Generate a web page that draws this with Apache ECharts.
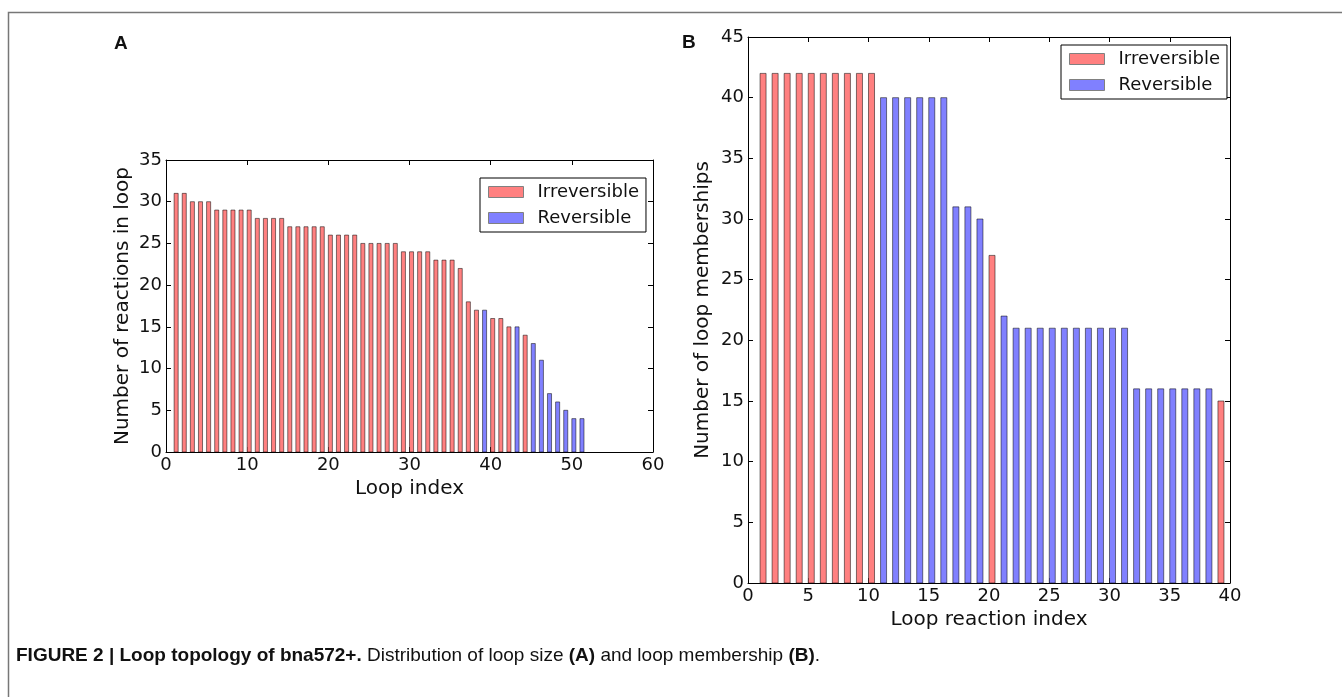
<!DOCTYPE html>
<html>
<head>
<meta charset="utf-8">
<script src="https://cdn.jsdelivr.net/npm/echarts@6/dist/echarts.min.js"></script>
<style>
html,body{margin:0;padding:0;background:#fff;}
#chart{width:1342px;height:697px;}
</style>
</head>
<body>
<div id="chart"></div>
<script>
// ---------- Data ----------
// Panel A: loop size per loop index (1..51)
const loopIndexA = [1,2,3,4,5,6,7,8,9,10,11,12,13,14,15,16,17,18,19,20,21,22,23,24,25,26,27,28,29,30,31,32,33,34,35,36,37,38,39,40,41,42,43,44,45,46,47,48,49,50,51];
const loopSizeA = [31,31,30,30,30,29,29,29,29,29,28,28,28,28,27,27,27,27,27,26,26,26,26,25,25,25,25,25,24,24,24,24,23,23,23,22,18,17,17,16,16,15,15,14,13,11,7,6,5,4,4];
const loopTypeA = ['I','I','I','I','I','I','I','I','I','I','I','I','I','I','I','I','I','I','I','I','I','I','I','I','I','I','I','I','I','I','I','I','I','I','I','I','I','I','R','I','I','I','R','I','R','R','R','R','R','R','R'];

// Panel B: loop membership per loop reaction index (1..39)
const reactionIndexB = [1,2,3,4,5,6,7,8,9,10,11,12,13,14,15,16,17,18,19,20,21,22,23,24,25,26,27,28,29,30,31,32,33,34,35,36,37,38,39];
const membershipB = [42,42,42,42,42,42,42,42,42,42,40,40,40,40,40,40,31,31,30,27,22,21,21,21,21,21,21,21,21,21,21,16,16,16,16,16,16,16,15];
const reactionTypeB = ['I','I','I','I','I','I','I','I','I','I','R','R','R','R','R','R','R','R','R','I','R','R','R','R','R','R','R','R','R','R','R','R','R','R','R','R','R','R','I'];

const xTicksA = {min:0, max:60, interval:10};
const yTicksA = {min:0, max:35, interval:5};
const xTicksB = {min:0, max:40, interval:5};
const yTicksB = {min:0, max:45, interval:5};

const seriesNames = ['Irreversible', 'Reversible'];

// ---------- Styles ----------
const RED = '#ff8080', BLUE = '#8080ff', EDGE = 'rgba(0,0,0,0.5)';
const BAR_W = 0.5; // bar width in data units (left-aligned at index)
const FONT = 'DejaVu Sans';

function pick(idx, vals, types, t) {
  const out = [];
  for (let i = 0; i < idx.length; i++) if (types[i] === t) out.push([idx[i], vals[i]]);
  return out;
}

function barSeries(name, data, color, gi) {
  return {
    type: 'custom', name: name, xAxisIndex: gi * 2, yAxisIndex: gi * 2,
    data: data, color: color,
    renderItem: function (params, api) {
      const x = api.value(0), v = api.value(1);
      const p0 = api.coord([x, 0]);
      const p1 = api.coord([x + BAR_W, v]);
      return {
        type: 'rect',
        shape: {x: p0[0], y: p1[1], width: p1[0] - p0[0], height: p0[1] - p1[1]},
        style: {fill: color, stroke: EDGE, lineWidth: 1}
      };
    }
  };
}

function axesFor(gi, xt, yt, xName, yName, yGap) {
  const line = {show: true, onZero: false, lineStyle: {color: '#000', width: 1}};
  const tick = {show: true, inside: true, length: 5, lineStyle: {color: '#000'}};
  const lbl = {fontSize: 18, color: '#111', fontFamily: FONT, showMinLabel: true, showMaxLabel: true};
  const nameStyle = {fontSize: 20, color: '#111', fontFamily: FONT};
  return {
    x: [
      {gridIndex: gi, type: 'value', position: 'bottom', min: xt.min, max: xt.max, interval: xt.interval,
       axisLine: line, axisTick: tick, splitLine: {show: false}, axisLabel: Object.assign({margin: 4}, lbl),
       name: xName, nameLocation: 'middle', nameGap: 27, nameTextStyle: nameStyle},
      {gridIndex: gi, type: 'value', position: 'top', min: xt.min, max: xt.max, interval: xt.interval,
       axisLine: line, axisTick: tick, splitLine: {show: false}, axisLabel: {show: false}}
    ],
    y: [
      {gridIndex: gi, type: 'value', position: 'left', min: yt.min, max: yt.max, interval: yt.interval,
       axisLine: line, axisTick: tick, splitLine: {show: false}, axisLabel: Object.assign({margin: 4}, lbl),
       name: yName, nameLocation: 'middle', nameGap: yGap, nameRotate: 90, nameTextStyle: nameStyle},
      {gridIndex: gi, type: 'value', position: 'right', min: yt.min, max: yt.max, interval: yt.interval,
       axisLine: line, axisTick: tick, splitLine: {show: false}, axisLabel: {show: false}}
    ]
  };
}

const axA = axesFor(0, xTicksA, yTicksA, 'Loop index', 'Number of reactions in loop', 33);
const axB = axesFor(1, xTicksB, yTicksB, 'Loop reaction index', 'Number of loop memberships', 35);

function legendAt(left, top) {
  return {
    orient: 'vertical', left: left, top: top,
    data: [
      {name: seriesNames[0], icon: 'rect', itemStyle: {color: RED, borderColor: '#808080', borderWidth: 1}},
      {name: seriesNames[1], icon: 'rect', itemStyle: {color: BLUE, borderColor: '#808080', borderWidth: 1}}
    ],
    itemWidth: 35, itemHeight: 11, itemGap: 8,
    textStyle: {fontSize: 18, color: '#111', fontFamily: FONT, padding: [0, 0, 0, 9]},
    padding: [5, 7, 5, 8], borderColor: '#000', borderWidth: 1, backgroundColor: '#fff',
    selectedMode: false
  };
}

const option = {
  animation: false,
  backgroundColor: '#fff',
  grid: [
    {left: 166, top: 160, width: 487, height: 292},
    {left: 748, top: 37, width: 482, height: 546}
  ],
  xAxis: [axA.x[0], axA.x[1], axB.x[0], axB.x[1]],
  yAxis: [axA.y[0], axA.y[1], axB.y[0], axB.y[1]],
  legend: [legendAt(480, 178), legendAt(1061, 45)],
  series: [
    barSeries(seriesNames[0], pick(loopIndexA, loopSizeA, loopTypeA, 'I'), RED, 0),
    barSeries(seriesNames[1], pick(loopIndexA, loopSizeA, loopTypeA, 'R'), BLUE, 0),
    barSeries(seriesNames[0], pick(reactionIndexB, membershipB, reactionTypeB, 'I'), RED, 1),
    barSeries(seriesNames[1], pick(reactionIndexB, membershipB, reactionTypeB, 'R'), BLUE, 1)
  ],
  graphic: [
    {type: 'polyline', silent: true, shape: {points: [[8.5, 697], [8.5, 12.5], [1342, 12.5]]},
     style: {stroke: '#777', lineWidth: 1.5, fill: null}},
    {type: 'text', left: 114, top: 34, style: {text: 'A', font: 'bold 19px "Liberation Sans", Arial, sans-serif', fill: '#111'}},
    {type: 'text', left: 682, top: 33, style: {text: 'B', font: 'bold 19px "Liberation Sans", Arial, sans-serif', fill: '#111'}},
    {type: 'text', left: 16, top: 646, style: {
      text: '{b|FIGURE 2 | Loop topology of bna572+.}{n| Distribution of loop size }{b|(A)}{n| and loop membership }{b|(B)}{n|.}',
      rich: {
        b: {fontFamily: '"Liberation Sans", Arial, sans-serif', fontWeight: 'bold', fontSize: 19, fill: '#111'},
        n: {fontFamily: '"Liberation Sans", Arial, sans-serif', fontSize: 19, fill: '#111'}
      }
    }}
  ]
};

const chart = echarts.init(document.getElementById('chart'), null, {renderer: 'canvas'});
chart.setOption(option);
</script>
</body>
</html>
